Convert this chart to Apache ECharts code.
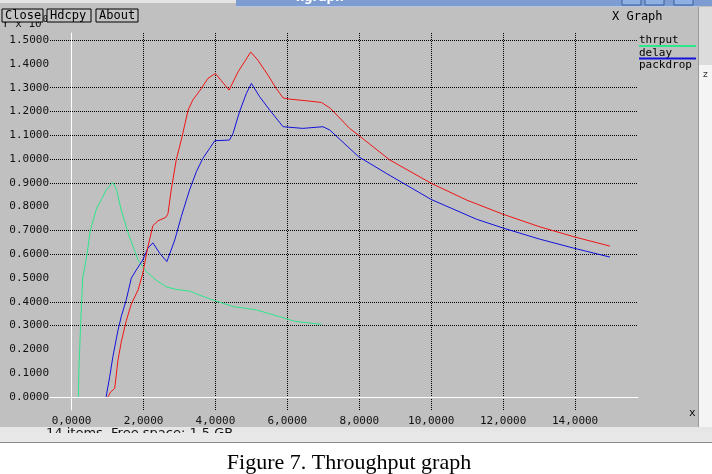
<!DOCTYPE html>
<html>
<head>
<meta charset="utf-8">
<script src="https://cdn.jsdelivr.net/npm/echarts@6/dist/echarts.min.js"></script>
<style>
html, body { margin: 0; padding: 0; background: #fff; }
#main { width: 712px; height: 474px; }
</style>
</head>
<body>
<div id="main"></div>
<script>
// data
var seriesNames = ['thrput', 'delay', 'packdrop'];

var thrput = [
    [0.19, 0.0], [0.20, 0.10], [0.25, 0.30], [0.31, 0.50], [0.43, 0.60],
    [0.52, 0.70], [0.69, 0.79], [0.83, 0.83], [0.96, 0.87], [1.10, 0.895],
    [1.16, 0.90], [1.25, 0.87], [1.38, 0.786], [1.57, 0.69], [1.85, 0.575],
    [2.08, 0.527], [2.36, 0.49], [2.63, 0.463], [2.91, 0.452], [3.28, 0.445],
    [3.56, 0.428], [3.98, 0.405], [4.49, 0.38], [5.14, 0.366], [5.79, 0.337],
    [6.20, 0.318], [6.95, 0.305]
];

var delay = [
    [0.96, 0.0], [1.06, 0.085], [1.15, 0.17], [1.29, 0.28], [1.38, 0.337],
    [1.52, 0.408], [1.66, 0.499], [1.80, 0.534], [1.98, 0.576], [2.12, 0.625],
    [2.26, 0.648], [2.45, 0.604], [2.65, 0.569], [2.87, 0.66], [3.05, 0.758],
    [3.28, 0.87], [3.47, 0.947], [3.65, 1.003], [3.84, 1.045], [3.98, 1.077],
    [4.39, 1.08], [4.49, 1.108], [4.67, 1.199], [4.86, 1.276], [5.00, 1.318],
    [5.23, 1.262], [5.51, 1.206], [5.88, 1.136], [6.43, 1.129], [6.99, 1.136],
    [7.18, 1.122], [7.98, 1.01], [8.75, 0.94], [10.0, 0.83], [11.26, 0.747],
    [12.0, 0.71], [13.0, 0.664], [14.0, 0.624], [14.97, 0.588]
];

var packdrop = [
    [1.01, 0.0], [1.08, 0.02], [1.20, 0.036], [1.29, 0.155], [1.38, 0.23],
    [1.52, 0.32], [1.66, 0.39], [1.85, 0.45], [1.98, 0.52], [2.12, 0.63],
    [2.26, 0.72], [2.40, 0.74], [2.62, 0.755], [2.68, 0.77], [2.77, 0.87],
    [2.91, 0.996], [3.05, 1.08], [3.24, 1.206], [3.37, 1.248], [3.61, 1.297],
    [3.79, 1.339], [4.00, 1.36], [4.16, 1.33], [4.38, 1.29], [4.63, 1.367],
    [4.81, 1.409], [4.98, 1.45], [5.18, 1.416], [5.46, 1.353], [5.69, 1.297],
    [5.88, 1.257], [6.06, 1.252], [6.53, 1.245], [6.95, 1.238], [7.20, 1.213],
    [7.73, 1.129], [7.98, 1.10], [8.85, 0.996], [10.0, 0.898], [10.98, 0.828],
    [11.98, 0.769], [13.0, 0.716], [14.0, 0.672], [14.97, 0.634]
];

var xTicks = [0, 2, 4, 6, 8, 10, 12, 14];
var xGridLines = [2, 4, 6, 8, 10, 12, 14];
var yTicks = [0, 0.1, 0.2, 0.3, 0.4, 0.5, 0.6, 0.7, 0.8, 0.9, 1.0, 1.1, 1.2, 1.3, 1.4, 1.5];
var yGridLines = [0.3, 0.4, 0.6, 0.7, 0.9, 1.0, 1.1, 1.2, 1.3, 1.5];

var colors = ['#2ee68c', '#1212dc', '#f01414'];
var mono = 'DejaVu Sans Mono';
var bg = '#c0c0c0';

// xgraph leaves some grid rows out; one colour per split line, transparent = no line
function gridColors(ticks, shown) {
    return ticks.map(function (v) { return shown.indexOf(v) >= 0 ? '#000' : 'rgba(0,0,0,0)'; });
}

var myChart = echarts.init(document.getElementById('main'));

function button(x, w, label) {
    return {
        type: 'group',
        children: [
            { type: 'rect', shape: { x: x, y: 9, width: w, height: 13 },
              style: { fill: '#c4c4c4', stroke: '#000', lineWidth: 1 } },
            { type: 'text', x: x + 3, y: 15.5,
              style: { text: label, fontFamily: mono, fontSize: 12, fill: '#000', verticalAlign: 'middle' } }
        ]
    };
}

var option = {
    animation: false,
    backgroundColor: bg,
    color: colors,
    grid: {
        left: 50,
        right: 74,
        top: 33,
        bottom: 64,
        outerBoundsMode: 'none'
    },
    legend: {
        data: seriesNames,
        orient: 'vertical',
        left: 634,
        top: 35,
        padding: 0,
        itemWidth: 0,
        itemHeight: 11,
        itemGap: 0,
        icon: 'rect',
        selectedMode: false,
        formatter: function (name) {
            if (name === 'thrput') return '{n|' + name + '}\n{g| }';
            if (name === 'delay') return '{n|' + name + '}\n{b| }';
            return '{n|' + name + '}';
        },
        textStyle: {
            fontFamily: mono,
            fontSize: 11,
            color: '#000',
            rich: {
                n: { fontFamily: mono, fontSize: 11, color: '#000', lineHeight: 8 },
                g: { width: 57, height: 2, lineHeight: 3, backgroundColor: colors[0], fontSize: 1 },
                b: { width: 57, height: 2, lineHeight: 3, backgroundColor: colors[1], fontSize: 1 }
            }
        }
    },
    xAxis: {
        type: 'value',
        min: -0.6,
        max: 15.75,
        axisLine: { onZero: true, lineStyle: { color: '#fff', width: 1 } },
        axisTick: { show: false, customValues: xTicks },
        axisLabel: {
            customValues: xTicks,
            margin: 6,
            fontFamily: mono,
            fontSize: 11,
            color: '#111',
            formatter: function (v) { return v.toFixed(4).replace('.', ','); }
        },
        splitLine: {
            show: true,
            lineStyle: { color: gridColors(xTicks, xGridLines), width: 1, type: [1, 1] }
        }
    },
    yAxis: {
        type: 'value',
        min: -0.055,
        max: 1.53,
        axisLine: { show: true, onZero: true, lineStyle: { color: '#fff', width: 1 } },
        axisTick: { show: false, customValues: yTicks },
        axisLabel: {
            customValues: yTicks,
            margin: 1,
            fontFamily: mono,
            fontSize: 11,
            color: '#111',
            formatter: function (v) { return v.toFixed(4); }
        },
        splitLine: {
            show: true,
            lineStyle: { color: gridColors(yTicks, yGridLines), width: 1, type: [1, 1] }
        }
    },
    series: [
        { name: 'thrput', type: 'line', data: thrput, showSymbol: false, symbol: 'none',
          lineStyle: { width: 1, color: colors[0] } },
        { name: 'delay', type: 'line', data: delay, showSymbol: false, symbol: 'none',
          lineStyle: { width: 1, color: colors[1] } },
        { name: 'packdrop', type: 'line', data: packdrop, showSymbol: false, symbol: 'none',
          lineStyle: { width: 1, color: colors[2] } }
    ],
    graphic: {
        elements: [
            // window title bar
            { type: 'rect', shape: { x: 0, y: 0, width: 236, height: 3 }, style: { fill: '#e4e4e4' } },
            { type: 'rect', shape: { x: 236, y: 0, width: 476, height: 6 }, style: { fill: '#7d9dd2' } },
            { type: 'rect', shape: { x: 236, y: 6, width: 462, height: 1 }, style: { fill: '#b4c6e4' } },
            { type: 'text', x: 320, y: -2, style: { text: 'xgraph', fontFamily: 'DejaVu Sans', fontSize: 12, fontWeight: 'bold', fill: '#fff', align: 'center', verticalAlign: 'middle' } },
            { type: 'rect', shape: { x: 622, y: -4, width: 19, height: 9 }, style: { fill: '#8fb0e2', stroke: '#3c5c9c' } },
            { type: 'rect', shape: { x: 645, y: -4, width: 19, height: 9 }, style: { fill: '#8fb0e2', stroke: '#3c5c9c' } },
            { type: 'rect', shape: { x: 674, y: -4, width: 19, height: 9 }, style: { fill: '#8fb0e2', stroke: '#3c5c9c' } },
            // right side strip
            { type: 'rect', shape: { x: 698, y: 7, width: 14, height: 420 }, style: { fill: '#f4f4f4' } },
            { type: 'rect', shape: { x: 698, y: 7, width: 14, height: 58 }, style: { fill: '#dcdcdc' } },
            { type: 'rect', shape: { x: 698, y: 7, width: 1, height: 420 }, style: { fill: '#9a9a9a' } },
            { type: 'text', x: 703, y: 75, style: { text: 'z', fontFamily: 'DejaVu Sans', fontSize: 9, fill: '#333', verticalAlign: 'middle' } },
            // bottom status strip
            { type: 'rect', shape: { x: 0, y: 427, width: 712, height: 16 }, style: { fill: '#e6e6e6' } },
            { type: 'text', x: 46, y: 427, style: { text: '14 items  Free space: 1.5 GB', fontFamily: 'DejaVu Sans', fontSize: 13, fill: '#111', verticalAlign: 'top' } },
            { type: 'rect', shape: { x: 0, y: 433, width: 712, height: 9 }, style: { fill: '#e8e8e8' } },
            { type: 'rect', shape: { x: 0, y: 442, width: 712, height: 1 }, style: { fill: '#8a8a8a' } },
            { type: 'rect', shape: { x: 0, y: 443, width: 712, height: 31 }, style: { fill: '#fff' } },
            { type: 'text', x: 349, y: 463.5, style: { text: 'Figure 7. Throughput graph', fontFamily: 'Liberation Serif', fontSize: 22, fill: '#000', align: 'center', verticalAlign: 'middle' } },
            // axis unit texts
            { type: 'text', x: 2, y: 24, style: { text: 'Y x 10', fontFamily: mono, fontSize: 11, fill: '#111', verticalAlign: 'middle' } },
            { type: 'text', x: 43, y: 20, style: { text: '0', fontFamily: mono, fontSize: 8, fill: '#111', verticalAlign: 'middle' } },
            button(2, 41, 'Close'),
            button(47, 44, 'Hdcpy'),
            button(96, 42, 'About'),
            { type: 'text', x: 612, y: 16.5, style: { text: 'X Graph', fontFamily: mono, fontSize: 12, fill: '#000', verticalAlign: 'middle' } },
            { type: 'text', x: 689, y: 413, style: { text: 'x', fontFamily: mono, fontSize: 11, fill: '#000', verticalAlign: 'middle' } }
        ]
    }
};

myChart.setOption(option);
</script>
</body>
</html>
